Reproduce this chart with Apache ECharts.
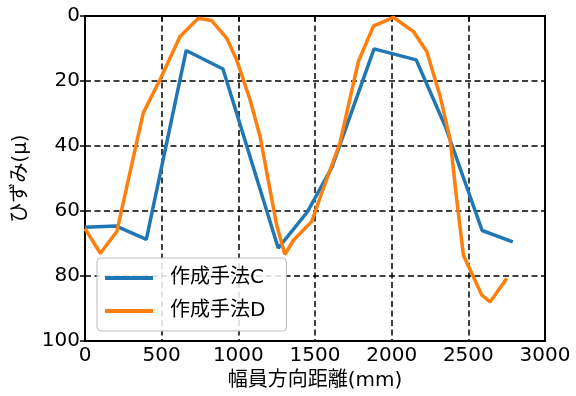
<!DOCTYPE html>
<html>
<head>
<meta charset="utf-8">
<script src="https://cdn.jsdelivr.net/npm/echarts@6/dist/echarts.min.js"></script>
<style>
  html, body { margin: 0; padding: 0; background: #fff; }
  #chart { width: 576px; height: 396px; }
</style>
</head>
<body>
<div id="chart"></div>
<script>
// 作成手法C
var cX = [0, 200, 400, 660, 900, 1260, 1450, 1610, 1885, 2160, 2350, 2590, 2790];
var cY = [65, 64.6, 68.7, 10.6, 16.3, 71.4, 60.3, 46.6, 10.1, 13.5, 34, 66, 69.5];
// 作成手法D
var dX = [0, 100, 207, 380, 489, 620, 739, 826, 924, 989, 1076, 1141, 1250, 1304, 1359,
          1479, 1530, 1663, 1783, 1881, 2011, 2142, 2229, 2316, 2381, 2424, 2468, 2587, 2642, 2751];
var dY = [65.4, 73, 66.4, 29.8, 19.6, 6.3, 0.7, 1.4, 6.8, 13.5, 25.7, 36.9, 64.4, 73.4, 69,
          63.2, 56.3, 39, 14, 3.1, 0.4, 4.8, 10.9, 24.7, 37.9, 56.3, 73.6, 85.8, 88, 80.7];

var seriesNames = ["作成手法C", "作成手法D"];
var xName = "幅員方向距離(mm)";
var yName = "ひずみ(μ)";

function zip(xs, ys) {
  var out = [];
  for (var i = 0; i < xs.length; i++) out.push([xs[i], ys[i]]);
  return out;
}

var FONT = "DejaVu Sans, Noto Sans CJK JP, sans-serif";

var myChart = echarts.init(document.getElementById("chart"));
var axisCommon = {
  axisLine: { show: true, lineStyle: { color: "#000", width: 2 } },
  axisTick: { show: true, inside: false, length: 5, lineStyle: { color: "#000", width: 1.5 } },
  axisLabel: {
    color: "#000",
    fontSize: 20,
    fontFamily: FONT,
    margin: 5,
    formatter: function (v) { return String(v); },
  },
  splitLine: {
    show: true,
    lineStyle: { color: "#000", width: 1.5, type: [6, 3.5] },
  },
  nameTextStyle: { color: "#000", fontSize: 20, fontFamily: FONT },
};

var option = {
  animation: false,
  backgroundColor: "#fff",
  grid: {
    left: 85,
    right: 31,
    top: 16,
    bottom: 54,
    show: true,
    borderColor: "#000",
    borderWidth: 2,
    backgroundColor: "transparent",
  },
  legend: {
    orient: "vertical",
    left: 97,
    top: 258,
    data: seriesNames,
    icon: "rect",
    itemWidth: 48,
    itemHeight: 4,
    itemGap: 13,
    padding: [10, 21, 10, 8],
    textStyle: { color: "#000", fontSize: 20, fontFamily: FONT, padding: [0, 0, 0, 12] },
    borderColor: "#bbb",
    borderWidth: 1,
    borderRadius: 4,
    backgroundColor: "rgba(255,255,255,0.85)",
  },
  xAxis: Object.assign({}, axisCommon, {
    type: "value",
    min: 0,
    max: 3000,
    interval: 500,
    name: xName,
    nameLocation: "middle",
    nameGap: 30,
  }),
  yAxis: Object.assign({}, axisCommon, {
    type: "value",
    inverse: true,
    min: 0,
    max: 100,
    interval: 20,
    name: yName,
    nameLocation: "middle",
    nameGap: 54,
  }),
  series: [
    {
      name: seriesNames[0],
      type: "line",
      data: zip(cX, cY),
      symbol: "none",
      color: "#1f77b4",
      lineStyle: { width: 3.5, color: "#1f77b4" },
      z: 3,
    },
    {
      name: seriesNames[1],
      type: "line",
      data: zip(dX, dY),
      symbol: "none",
      color: "#ff7f0e",
      lineStyle: { width: 3.5, color: "#ff7f0e" },
      z: 4,
    },
  ],
};

option && myChart.setOption(option);
</script>
</body>
</html>
